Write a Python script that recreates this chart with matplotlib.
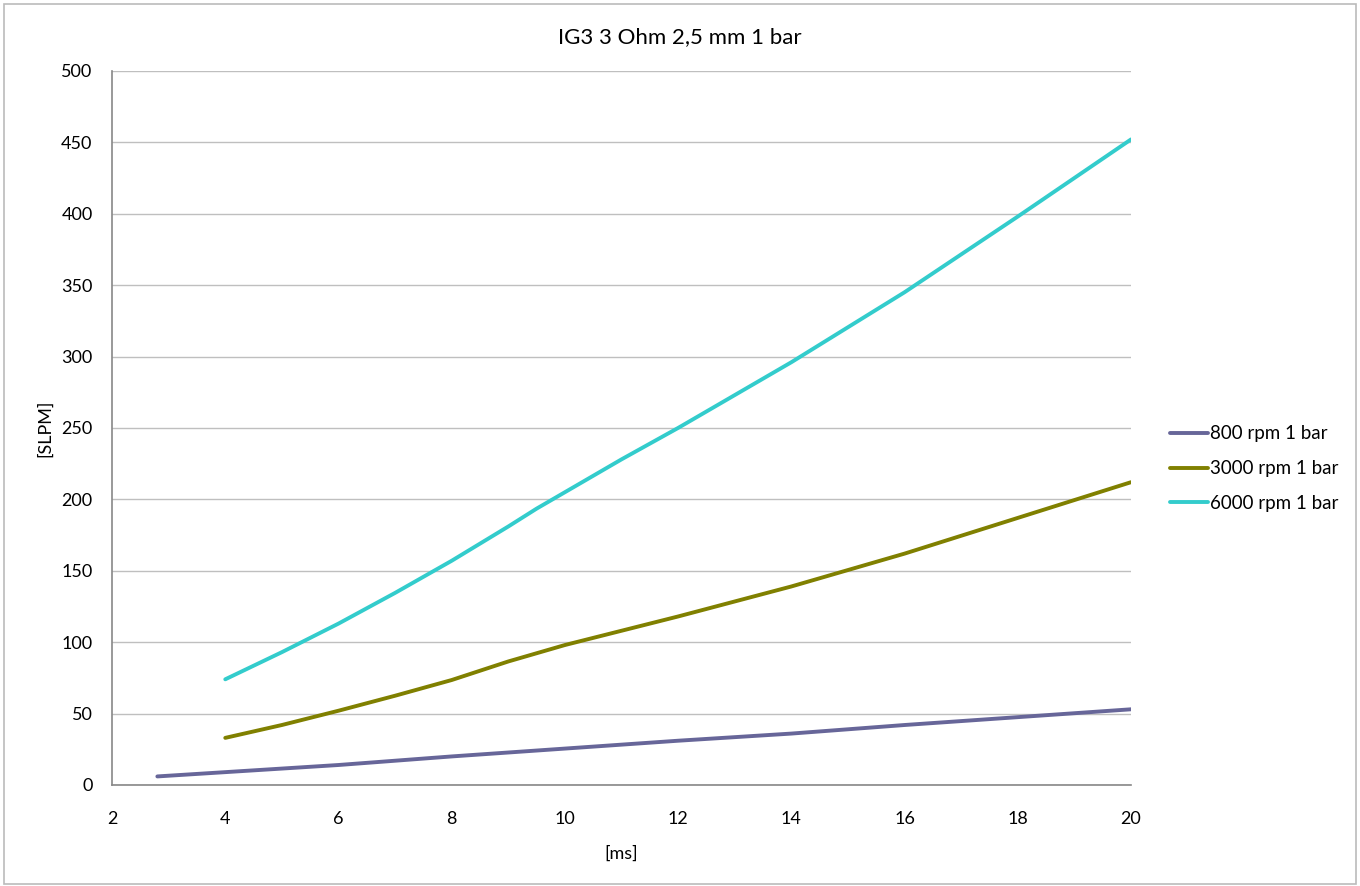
import matplotlib
matplotlib.use("Agg")
import matplotlib.pyplot as plt
from matplotlib.patches import Rectangle

plt.rcParams["font.family"] = ["Lato", "DejaVu Sans"]

TITLE = "IG3 3 Ohm 2,5 mm 1 bar"

x_800 = [2.8, 4, 6, 8, 10, 12, 14, 16, 18, 20]
y_800 = [6, 9, 14, 20, 25.5, 31, 36, 42, 47.5, 53]

x_3000 = [4, 5, 6, 7, 8, 9, 10, 12, 14, 16, 18, 20]
y_3000 = [33, 42, 52, 62.5, 73.5, 86.5, 98, 118, 139, 162, 187, 212]

x_6000 = [4, 5, 6, 7, 8, 9, 9.5, 10, 11, 12, 14, 16, 18, 20]
y_6000 = [74, 93, 113, 134.5, 157, 181, 193.5, 205, 228, 250, 296, 345, 398, 452]

labels = ["800 rpm 1 bar", "3000 rpm 1 bar", "6000 rpm 1 bar"]
colors = ["#676699", "#808000", "#33CCCC"]

fig = plt.figure(figsize=(13.6, 8.86), dpi=100)
ax = fig.add_axes([0.0824, 0.114, 0.7492, 0.806])

for xs, ys, lab, col in zip([x_800, x_3000, x_6000], [y_800, y_3000, y_6000], labels, colors):
    ax.plot(xs, ys, color=col, linewidth=2.8, label=lab, solid_capstyle="round",
            solid_joinstyle="round")

ax.set_xlim(2, 20)
ax.set_ylim(0, 500)
ax.set_xticks(range(2, 21, 2))
ax.set_yticks(range(0, 501, 50))
ax.grid(axis="y", color="#BFBFBF", linewidth=1)
ax.set_axisbelow(True)
for side in ["top", "right"]:
    ax.spines[side].set_visible(False)
for side in ["left", "bottom"]:
    ax.spines[side].set_color("#888888")
    ax.spines[side].set_linewidth(1.2)
ax.tick_params(length=0, labelsize=13, colors="black")
ax.tick_params(axis="x", pad=19)
ax.tick_params(axis="y", pad=14)

fig.suptitle(TITLE, fontsize=16, x=0.5, y=0.958, va="center")
ax.set_xlabel("[ms]", fontsize=13, labelpad=13)
ax.set_ylabel("[SLPM]", fontsize=13, labelpad=6)

fig.legend(loc="center left", bbox_to_anchor=(0.848, 0.471), frameon=False,
           fontsize=13.5, handlelength=2.0, handletextpad=0.1, labelspacing=0.95)

fig.patches.append(Rectangle((0.003, 0.002), 0.994, 0.994, transform=fig.transFigure,
                             fill=False, edgecolor="#BBBBBB", linewidth=1.2))

fig.savefig("out.png", dpi=100)
